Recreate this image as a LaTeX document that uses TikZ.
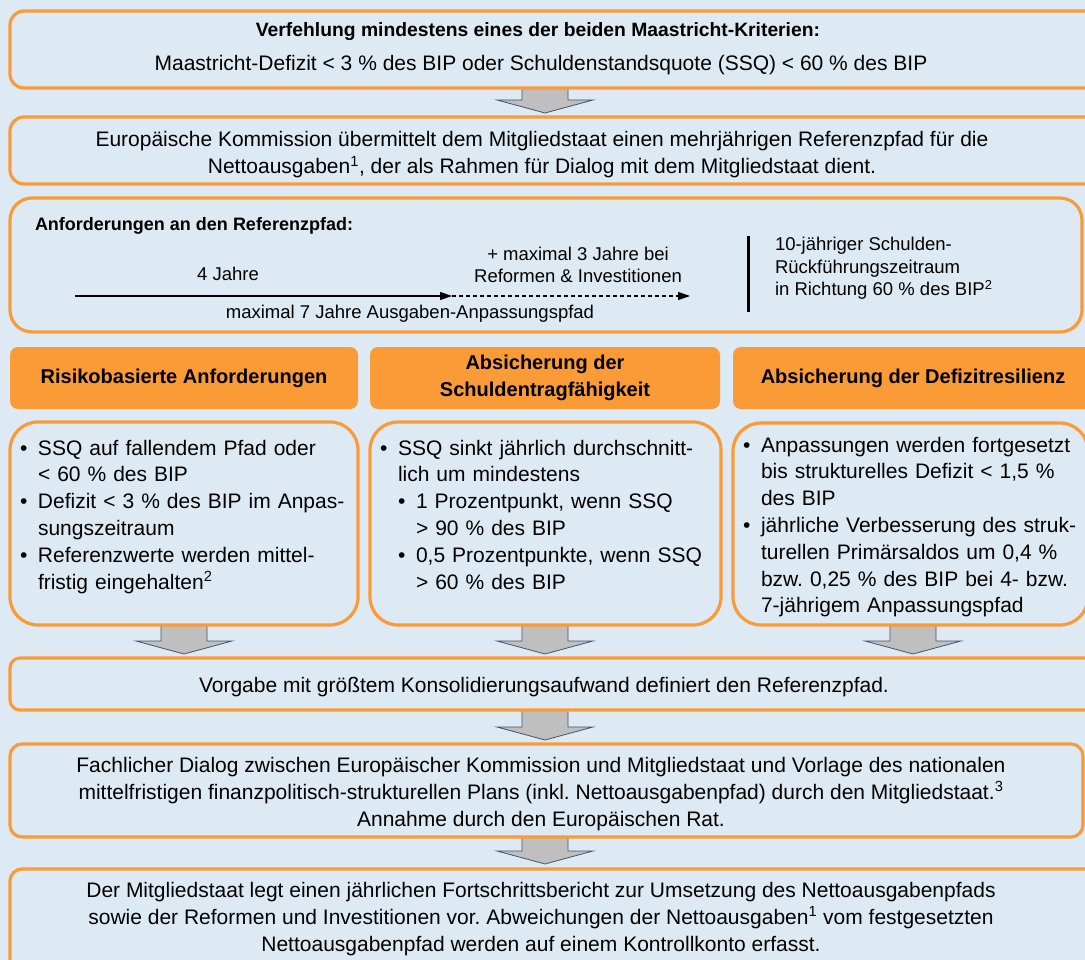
\documentclass[tikz,border=0pt]{standalone}
\usepackage{fontspec}
\setmainfont{Liberation Sans}
\usetikzlibrary{arrows.meta}
\pgfdeclarelayer{back}
\pgfsetlayers{back,main}
\definecolor{bgblue}{RGB}{222,234,243}
\definecolor{orng}{RGB}{250,155,56}
\definecolor{arrfill}{RGB}{191,191,191}
\definecolor{arredge}{RGB}{68,84,106}
\newcommand\fmain{\fontsize{21}{27}\selectfont}
\newcommand\fcol{\fontsize{21}{26.8}\selectfont}
\newcommand\fhead{\fontsize{20}{27}\selectfont\bfseries}
\newcommand\ftitle{\fontsize{19.3}{27}\selectfont\bfseries}
\newcommand\fsmall{\fontsize{18.5}{22.5}\selectfont}
\newcommand\bul{\makebox[18pt][l]{\textbullet}}
\newcommand\ind{\hspace*{18pt}}
\tikzset{pics/blockarr/.style={code={
  \filldraw[fill=arrfill,draw=arredge,line width=0.8pt,line join=miter]
   (-23,-6) -- (-23,{#1-17}) -- (-48,{#1-17}) -- (0,{#1-4}) -- (48,{#1-17}) -- (23,{#1-17}) -- (23,-6) -- cycle;}}}
\begin{document}
\frenchspacing
\begin{tikzpicture}[x=1pt,y=-1pt,
  box/.style={draw=orng,line width=3.2pt,fill=bgblue,inner sep=0pt,outer sep=0pt,anchor=north west},
  head/.style={fill=orng,rounded corners=8pt,inner sep=0pt,outer sep=0pt,anchor=north west,align=center,font=\fhead},
  txt/.style={inner sep=0pt,outer sep=0pt,font=\fmain},
  coltxt/.style={inner sep=0pt,outer sep=0pt,font=\fcol,align=left,text width=335pt,anchor=north west},
  flow/.style={line width=1.1pt,-{Triangle[length=12pt,width=8pt]}}]
\useasboundingbox (0,0) rectangle (1085,960);

% boxes
\node[box,rounded corners=14pt,minimum width=1090pt,minimum height=77pt] (b1) at (10,11) {};
\node[box,rounded corners=14pt,minimum width=1090pt,minimum height=67pt] (b2) at (10,117) {};
\node[box,rounded corners=22pt,minimum width=1072pt,minimum height=134pt] (b3) at (10,198) {};
\node[head,minimum width=348pt,minimum height=62pt] (h1) at (10,347) {Risikobasierte Anforderungen};
\node[head,minimum width=350pt,minimum height=62pt] (h2) at (370,347) {Absicherung der\\Schuldentragfähigkeit};
\node[head,minimum width=360pt,minimum height=62pt] (h3) at (733,347) {Absicherung der Defizitresilienz};
\node[box,rounded corners=28pt,minimum width=348pt,minimum height=203pt] (c1) at (10,422) {};
\node[box,rounded corners=28pt,minimum width=351pt,minimum height=203pt] (c2) at (370,422) {};
\node[box,rounded corners=28pt,minimum width=355pt,minimum height=202pt] (c3) at (733,423) {};
\node[box,rounded corners=10pt,minimum width=1090pt,minimum height=52pt] (v) at (10,658) {};
\node[box,rounded corners=12pt,minimum width=1073pt,minimum height=93pt] (f) at (10,744) {};
\node[box,rounded corners=12pt,minimum width=1090pt,minimum height=110pt] (l) at (10,869) {};

% texts
\node[txt,font=\ftitle,anchor=base] (t1a) at (538,37) {Verfehlung mindestens eines der beiden Maastricht-Kriterien:};
\node[txt,anchor=base] (t1b) at (541,71) {Maastricht-Defizit < 3 \% des BIP oder Schuldenstandsquote (SSQ) < 60 \% des BIP};
\node[txt,align=center,anchor=north] (t2) at (542,{147-18.9}) {\strut Europäische Kommission übermittelt dem Mitgliedstaat einen mehrjährigen Referenzpfad für die\\Nettoausgaben\textsuperscript{1}, der als Rahmen für Dialog mit dem Mitgliedstaat dient.};

\node[txt,font=\fontsize{18}{22}\selectfont\bfseries,anchor=base west] (t3) at (35,231) {Anforderungen an den Referenzpfad:};
\coordinate (a0) at (75,296);
\coordinate (a1) at (452,296);
\coordinate (a2) at (690,296);
\draw[flow] (a0) -- (a1);
\draw[flow,dash pattern=on 4pt off 3pt] (a1) -- (a2);
\node[txt,font=\fsmall,anchor=base] (j4) at (228,281) {4 Jahre};
\node[txt,font=\fsmall,anchor=base] (j3) at (578,261) {+ maximal 3 Jahre bei};
\node[txt,font=\fsmall,anchor=base] (ri) at (578,283) {Reformen \& Investitionen};
\node[txt,font=\fsmall,anchor=base] (j7) at (410,319) {maximal 7 Jahre Ausgaben-Anpassungspfad};
\coordinate (bar1) at (748,236);
\coordinate (bar2) at (748,312);
\draw[line width=3pt] (bar1) -- (bar2);
\node[txt,font=\fsmall,align=left,anchor=north west] (rt) at (775,{251-15.75}) {\strut 10-jähriger Schulden-\\Rückführungszeitraum\\in Richtung 60 \% des BIP\textsuperscript{2}};

\node[coltxt] (c1t) at (20,{455-18.76}) {\strut\bul SSQ auf fallendem Pfad oder\\
\ind < 60 \% des BIP\\
\bul Defizit < 3 \% des BIP im Anpas-\\
\ind sungszeitraum\\
\bul Referenzwerte werden mittel-\\
\ind fristig eingehalten\textsuperscript{2}};

\node[coltxt] (c2t) at (380,{455-18.76}) {\strut\bul SSQ sinkt jährlich durchschnitt-\\
\ind lich um mindestens\\
\ind\bul 1 Prozentpunkt, wenn SSQ\\
\ind\ind > 90 \% des BIP\\
\ind\bul 0,5 Prozentpunkte, wenn SSQ\\
\ind\ind > 60 \% des BIP};

\node[coltxt] (c3t) at (743,{452-18.76}) {\strut\bul Anpassungen werden fortgesetzt\\
\ind bis strukturelles Defizit < 1,5 \%\\
\ind des BIP\\
\bul jährliche Verbesserung des struk-\\
\ind turellen Primärsaldos um 0,4 \%\\
\ind bzw. 0,25 \% des BIP bei 4- bzw.\\
\ind 7-jährigem Anpassungspfad};

\node[txt,anchor=base] (vt) at (544,692) {Vorgabe mit größtem Konsolidierungsaufwand definiert den Referenzpfad.};
\node[txt,align=center,anchor=north] (ft) at (541,{772-18.9}) {\strut Fachlicher Dialog zwischen Europäischer Kommission und Mitgliedstaat und Vorlage des nationalen\\mittelfristigen finanzpolitisch-strukturellen Plans (inkl. Nettoausgabenpfad) durch den Mitgliedstaat.\textsuperscript{3}\\Annahme durch den Europäischen Rat.};
\node[txt,align=center,anchor=north] (lt) at (541,{897-18.9}) {\strut Der Mitgliedstaat legt einen jährlichen Fortschrittsbericht zur Umsetzung des Nettoausgabenpfads\\sowie der Reformen und Investitionen vor. Abweichungen der Nettoausgaben\textsuperscript{1} vom festgesetzten\\Nettoausgabenpfad werden auf einem Kontrollkonto erfasst.};

\begin{pgfonlayer}{back}
\fill[bgblue] (0,0) rectangle (1085,960);
\pic at (b1.south -| h2.south) {blockarr=29};
\pic at (c1.south -| h1.south) {blockarr=33};
\pic at (c2.south -| h2.south) {blockarr=33};
\pic at (c3.south -| h3.south) {blockarr=33};
\pic at (v.south -| h2.south) {blockarr=34};
\pic at (f.south -| h2.south) {blockarr=31};
\end{pgfonlayer}
\end{tikzpicture}
\end{document}
